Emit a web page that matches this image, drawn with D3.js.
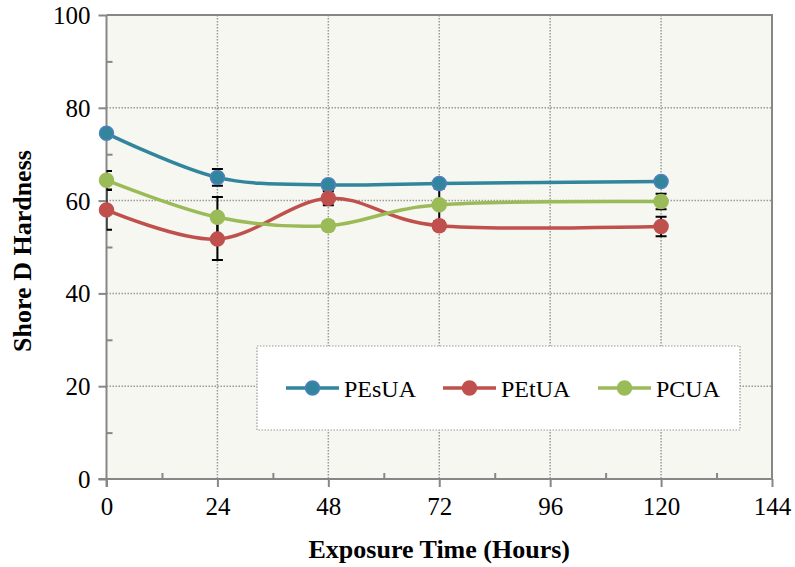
<!DOCTYPE html>
<html>
<head>
<meta charset="utf-8">
<script src="https://cdn.jsdelivr.net/npm/d3@7"></script>
<style>
  body { margin: 0; background: #fff; }
  text { font-family: "Liberation Serif", "Times New Roman", serif; }
</style>
</head>
<body>
<svg id="chart" width="795" height="567"></svg>
<script>
var hours = [0, 24, 48, 72, 120];
var seriesNames = ["PEsUA", "PEtUA", "PCUA"];
var pesua = [74.5, 65.0, 63.4, 63.7, 64.1];
var petua = [58.0, 51.7, 60.5, 54.6, 54.4];
var pcua = [64.4, 56.4, 54.6, 59.1, 59.8];
var pesuaErr = [0.8, 1.8, 1.0, 0.8, 0.8];
var petuaErr = [4.3, 4.5, 1.5, 1.0, 2.1];
var pcuaErr = [2.0, 4.4, 1.0, 3.5, 1.65];
var xTicks = [0, 24, 48, 72, 96, 120, 144];
var yTicks = [0, 20, 40, 60, 80, 100];

var colors = { PEsUA: "#31859C", PEtUA: "#C0504D", PCUA: "#9BBB59" };
var strokes = { PEsUA: "#4F81BD", PEtUA: "#C0504D", PCUA: "#9BBB59" };

var series = [
	{ name: "PEsUA", values: pesua, err: pesuaErr },
	{ name: "PEtUA", values: petua, err: petuaErr },
	{ name: "PCUA", values: pcua, err: pcuaErr }
];

var plotLeft = 106.5, plotRight = 772, plotTop = 15, plotBottom = 479;
var svg = d3.select("#chart");

var x = d3.scaleLinear().domain([0, 144]).range([plotLeft, plotRight]);
var y = d3.scaleLinear().domain([0, 100]).range([plotBottom, plotTop]);

// plot background
svg.append("rect")
	.attr("x", plotLeft).attr("y", plotTop)
	.attr("width", plotRight - plotLeft).attr("height", plotBottom - plotTop)
	.attr("fill", "#F6F7F0");

svg.append("clipPath").attr("id", "plotClip")
	.append("rect")
	.attr("x", plotLeft).attr("y", plotTop)
	.attr("width", plotRight - plotLeft).attr("height", plotBottom - plotTop);

// gridlines
svg.append("g").selectAll("line")
	.data(yTicks.filter(d => d > 0 && d < 100))
	.enter().append("line")
	.attr("x1", plotLeft).attr("x2", plotRight)
	.attr("y1", d => y(d)).attr("y2", d => y(d))
	.attr("stroke", "#9a9a9a").attr("stroke-width", 1.5)
	.attr("stroke-dasharray", "1.5,1.5");

svg.append("g").selectAll("line")
	.data(xTicks.filter(d => d > 0 && d < 144))
	.enter().append("line")
	.attr("x1", d => x(d)).attr("x2", d => x(d))
	.attr("y1", plotTop).attr("y2", plotBottom)
	.attr("stroke", "#9a9a9a").attr("stroke-width", 1.5)
	.attr("stroke-dasharray", "1.5,1.5");

// plot border (top, right)
svg.append("path")
	.attr("d", `M ${plotLeft},${plotTop} L ${plotRight},${plotTop} L ${plotRight},${plotBottom}`)
	.attr("fill", "none").attr("stroke", "#878787").attr("stroke-width", 2);

// axes
var yAxis = d3.axisLeft(y).tickValues(yTicks).tickSize(8).tickPadding(8);
var gy = svg.append("g").attr("transform", `translate(${plotLeft},0)`).call(yAxis);
gy.select(".domain").remove();
gy.selectAll(".tick line").attr("stroke", "#878787").attr("stroke-width", 2);
gy.selectAll(".tick text")
	.attr("font-family", "Liberation Serif").attr("font-size", 25).attr("fill", "#000")
	.attr("dy", "0.34em");

var yMinor = d3.axisRight(y).tickValues(d3.range(10, 100, 20)).tickSize(6).tickFormat("");
var gym = svg.append("g").attr("transform", `translate(${plotLeft},0)`).call(yMinor);
gym.select(".domain").remove();
gym.selectAll(".tick line").attr("stroke", "#878787").attr("stroke-width", 2);

var xAxis = d3.axisBottom(x).tickValues(xTicks).tickSize(8).tickPadding(10);
var gx = svg.append("g").attr("transform", `translate(0,${plotBottom})`).call(xAxis);
gx.select(".domain").remove();
gx.selectAll(".tick line").attr("stroke", "#878787").attr("stroke-width", 2);
gx.selectAll(".tick text")
	.attr("font-family", "Liberation Serif").attr("font-size", 25).attr("fill", "#000");

var xMinor = d3.axisTop(x).tickValues(d3.range(12, 144, 24)).tickSize(6).tickFormat("");
var gxm = svg.append("g").attr("transform", `translate(0,${plotBottom})`).call(xMinor);
gxm.select(".domain").remove();
gxm.selectAll(".tick line").attr("stroke", "#878787").attr("stroke-width", 2);

svg.append("line")
	.attr("x1", plotLeft).attr("x2", plotLeft).attr("y1", plotTop).attr("y2", plotBottom + 8)
	.attr("stroke", "#878787").attr("stroke-width", 2);
svg.append("line")
	.attr("x1", plotLeft - 8).attr("x2", plotRight).attr("y1", plotBottom).attr("y2", plotBottom)
	.attr("stroke", "#878787").attr("stroke-width", 2);

// axis titles
svg.append("text")
	.attr("x", (plotLeft + plotRight) / 2).attr("y", 558)
	.attr("text-anchor", "middle")
	.attr("font-size", 26).attr("font-weight", "bold")
	.text("Exposure Time (Hours)");

svg.append("text")
	.attr("transform", `translate(31,${(plotTop + plotBottom) / 2 + 4}) rotate(-90)`)
	.attr("text-anchor", "middle")
	.attr("font-size", 26).attr("font-weight", "bold")
	.text("Shore D Hardness");

// lines
var line = d3.line()
	.x((d, i) => x(hours[i]))
	.y(d => y(d))
	.curve(d3.curveCardinal.tension(0));

svg.append("g").selectAll("path")
	.data(series)
	.enter().append("path")
	.attr("d", d => line(d.values))
	.attr("fill", "none")
	.attr("stroke", d => colors[d.name])
	.attr("stroke-width", 3.5);

// error bars
var eb = svg.append("g").attr("clip-path", "url(#plotClip)");
series.forEach(function (s) {
	s.values.forEach(function (v, i) {
		var cx = x(hours[i]);
		var y1 = y(v + s.err[i]), y2 = y(v - s.err[i]);
		eb.append("path")
			.attr("d", `M ${cx},${y1} L ${cx},${y2} M ${cx - 5.5},${y1} L ${cx + 5.5},${y1} M ${cx - 5.5},${y2} L ${cx + 5.5},${y2}`)
			.attr("stroke", "#000").attr("stroke-width", 2).attr("fill", "none");
	});
});

// markers
series.forEach(function (s) {
	svg.append("g").selectAll("circle")
		.data(s.values)
		.enter().append("circle")
		.attr("cx", (d, i) => x(hours[i]))
		.attr("cy", d => y(d))
		.attr("r", 7)
		.attr("fill", colors[s.name])
		.attr("stroke", strokes[s.name])
		.attr("stroke-width", 1.5);
});

// legend
var lg = svg.append("g");
lg.append("rect")
	.attr("x", 257).attr("y", 346).attr("width", 483).attr("height", 84)
	.attr("fill", "#fff").attr("stroke", "#9a9a9a").attr("stroke-width", 1.2)
	.attr("stroke-dasharray", "1.5,1.5");

var legendX = [286, 443, 598];
series.forEach(function (s, i) {
	var g = lg.append("g").attr("transform", `translate(${legendX[i]},388)`);
	g.append("line").attr("x1", 0).attr("x2", 53).attr("y1", 0).attr("y2", 0)
		.attr("stroke", colors[s.name]).attr("stroke-width", 3.5);
	g.append("circle").attr("cx", 26.5).attr("cy", 0).attr("r", 7)
		.attr("fill", colors[s.name]).attr("stroke", strokes[s.name]).attr("stroke-width", 1.5);
	g.append("text").attr("x", 58).attr("y", 9)
		.attr("font-size", 24).text(seriesNames[i]);
});
</script>
</body>
</html>
